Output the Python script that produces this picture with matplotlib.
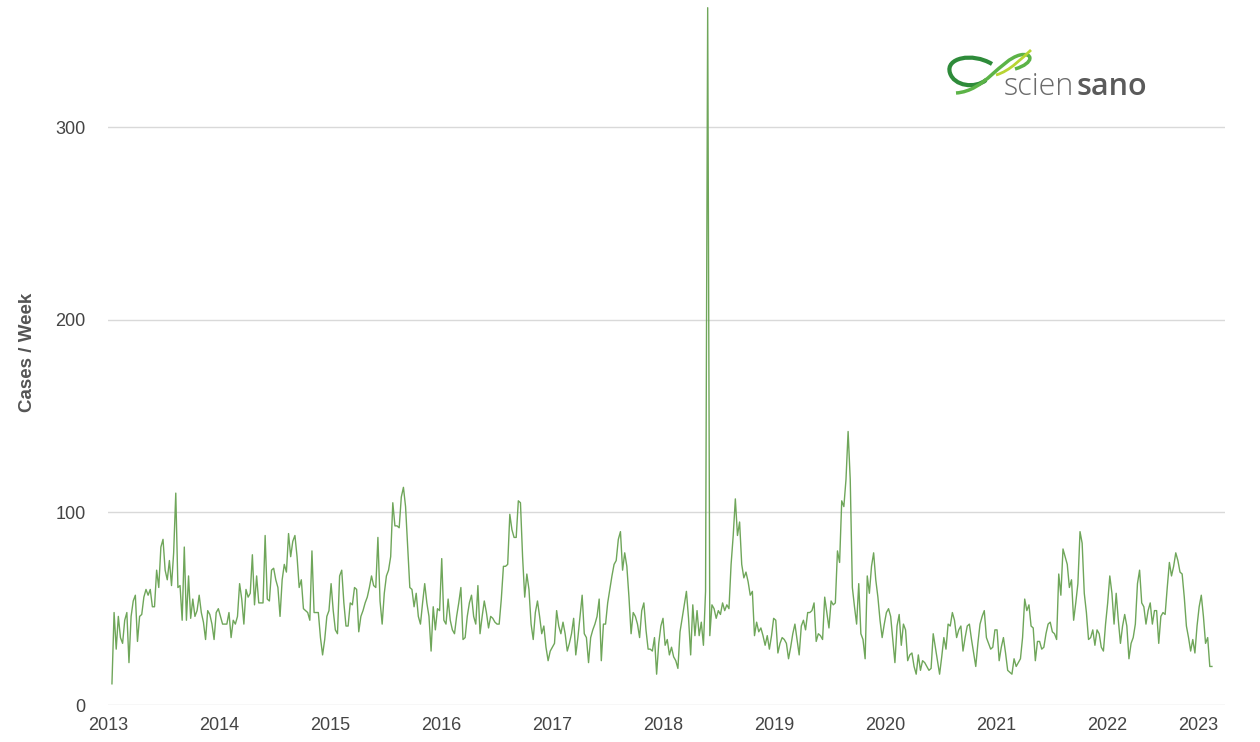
import pandas as pd
import matplotlib
matplotlib.use('Agg')
from matplotlib import pyplot as plt
import matplotlib.dates as mdates
from matplotlib.path import Path
from matplotlib.patches import PathPatch

# weekly cases, one list per year (weeks starting on Monday)
y2013 = [11, 48, 29, 46, 35, 32, 44, 48, 22, 46, 54, 57, 33, 46, 47, 56, 60, 57, 60, 51,
         51, 70, 61, 82, 86, 70, 65, 75, 62, 79, 110, 61, 62, 44, 82, 44, 67, 45, 55, 46,
         49, 57, 48, 43, 34, 49, 47, 42, 34, 48, 50]
y2014 = [46, 42, 42, 42, 48, 35, 44, 42, 46, 63, 55, 42, 60, 56, 58, 78, 52, 67, 53, 53,
         53, 88, 55, 54, 70, 71, 65, 61, 46, 65, 73, 69, 89, 77, 85, 88, 77, 61, 65, 50,
         49, 48, 44, 80, 48, 48, 48, 35, 26, 34, 46, 49]
y2015 = [63, 49, 39, 37, 67, 70, 53, 41, 41, 53, 52, 61, 60, 38, 46, 49, 53, 56, 61, 67,
         62, 61, 87, 54, 42, 58, 67, 70, 77, 105, 93, 93, 92, 108, 113, 103, 82, 61, 60, 51,
         58, 46, 42, 53, 63, 53, 46, 28, 51, 39, 50, 49]
y2016 = [76, 44, 42, 55, 44, 39, 37, 46, 53, 61, 34, 35, 46, 53, 57, 46, 42, 62, 37, 46,
         54, 48, 40, 46, 45, 43, 42, 42, 55, 72, 72, 73, 99, 91, 87, 87, 106, 105, 77, 56,
         68, 60, 42, 34, 48, 54, 46, 37, 41, 30, 23, 28]
y2017 = [30, 32, 49, 41, 37, 43, 37, 28, 32, 37, 45, 26, 35, 46, 57, 37, 35, 22, 35, 39,
         42, 46, 55, 23, 42, 42, 53, 60, 67, 73, 75, 86, 90, 70, 79, 72, 56, 37, 48, 46,
         42, 35, 49, 53, 39, 29, 29, 28, 35, 16, 32, 41]
y2018 = [45, 31, 34, 26, 30, 25, 23, 19, 38, 45, 52, 59, 45, 26, 52, 36, 49, 36, 43, 31,
         59, 362, 36, 52, 50, 45, 49, 47, 53, 49, 52, 50, 73, 88, 107, 88, 95, 73, 66, 69,
         64, 57, 59, 36, 43, 38, 40, 36, 31, 36, 29, 36, 45]
y2019 = [44, 27, 32, 35, 34, 32, 24, 30, 37, 42, 34, 26, 41, 44, 39, 48, 48, 49, 53, 33,
         37, 36, 34, 56, 48, 40, 54, 52, 53, 80, 74, 106, 103, 117, 142, 117, 61, 51, 42, 63,
         37, 34, 24, 67, 58, 72, 79, 65, 56, 44, 35, 42]
y2020 = [48, 50, 46, 34, 22, 41, 47, 31, 42, 39, 23, 26, 27, 20, 16, 26, 18, 23, 22, 20,
         18, 19, 37, 30, 23, 16, 25, 35, 29, 42, 41, 48, 44, 35, 39, 41, 28, 35, 41, 42,
         34, 27, 20, 32, 42, 46, 49, 35, 32, 29, 30, 39]
y2021 = [39, 23, 30, 35, 27, 18, 17, 16, 24, 20, 22, 24, 35, 55, 49, 52, 41, 40, 23, 33,
         33, 29, 30, 37, 42, 43, 38, 37, 34, 68, 57, 81, 77, 73, 61, 65, 44, 53, 63, 90,
         84, 58, 48, 34, 35, 39, 31, 39, 37, 30, 28, 42]
y2022 = [53, 67, 58, 42, 58, 44, 32, 41, 47, 41, 24, 32, 35, 42, 63, 70, 53, 51, 42, 49,
         53, 42, 49, 49, 32, 46, 48, 47, 61, 74, 67, 72, 79, 75, 69, 68, 56, 41, 35, 28,
         34, 27, 41, 51, 57, 46, 32, 35, 20, 20]

cases = y2013 + y2014 + y2015 + y2016 + y2017 + y2018 + y2019 + y2020 + y2021 + y2022
weeks = pd.date_range('2013-01-14', periods=len(cases), freq='W-MON')

fig = plt.figure(figsize=(12.6, 7.42), dpi=100)
ax = fig.add_axes([108 / 1260, 37 / 742, 1117 / 1260, 705 / 742])

ax.plot(weeks, cases, color='#6fa65a', linewidth=1.0, zorder=3)

ax.set_ylim(0, 366)
ax.set_xlim(pd.Timestamp('2013-01-01'), pd.Timestamp('2023-01-24'))
ax.set_yticks([0, 100, 200, 300])
ax.xaxis.set_major_locator(mdates.YearLocator())
ax.xaxis.set_major_formatter(mdates.DateFormatter('%Y'))

ax.grid(axis='y', color='#d9d9d9', linewidth=1.0)
ax.grid(axis='x', visible=False)
for s in ax.spines.values():
    s.set_visible(False)
ax.tick_params(length=0, labelsize=13, labelcolor='#444444')
ax.tick_params(axis='y', pad=16)
ax.tick_params(axis='x', pad=9)
for lab in ax.get_xticklabels() + ax.get_yticklabels():
    lab.set_fontfamily('Liberation Sans')
fig.canvas.draw()
xlabels = ax.get_xticklabels()
xlabels[-1].set_horizontalalignment('right')

fig.text(28 / 1260, 1 - 352 / 742, 'Cases / Week', rotation=90, ha='center', va='center',
         fontsize=13.5, fontweight='bold', color='#555555', family='Liberation Sans')

# logo
def px(x, y):
    return (x / 1260, 1 - y / 742)

C = Path.CURVE4
leaf1 = Path([px(992, 64), px(972, 52), px(945, 58), px(950, 73),
              px(954, 86), px(975, 89), px(986, 80)], [Path.MOVETO, C, C, C, C, C, C])
leaf2 = Path([px(956, 93), px(985, 91), px(1000, 60), px(1020, 55),
              px(1033, 52), px(1035, 63), px(1015, 69)], [Path.MOVETO, C, C, C, C, C, C])
leaf3 = Path([px(996, 75), px(1010, 71), px(1022, 58), px(1031, 50)], [Path.MOVETO, C, C, C])
fig.add_artist(PathPatch(leaf1, fill=False, edgecolor='#2e8b3a', linewidth=3, transform=fig.transFigure))
fig.add_artist(PathPatch(leaf2, fill=False, edgecolor='#5cb347', linewidth=2.5, transform=fig.transFigure))
fig.add_artist(PathPatch(leaf3, fill=False, edgecolor='#b8d432', linewidth=2, transform=fig.transFigure))

t1 = fig.text(1004 / 1260, 1 - 95 / 742, 'scien', fontsize=22, color='#6b6b6b', family='Open Sans',
              fontweight='light', ha='left', va='baseline')
fig.canvas.draw()
bb = t1.get_window_extent()
fig.text((bb.x1 + 2) / 1260, 1 - 95 / 742, 'sano', fontsize=22, color='#5a5a5a', family='Open Sans',
         fontweight='semibold', ha='left', va='baseline')

fig.savefig('out.png', dpi=100)
